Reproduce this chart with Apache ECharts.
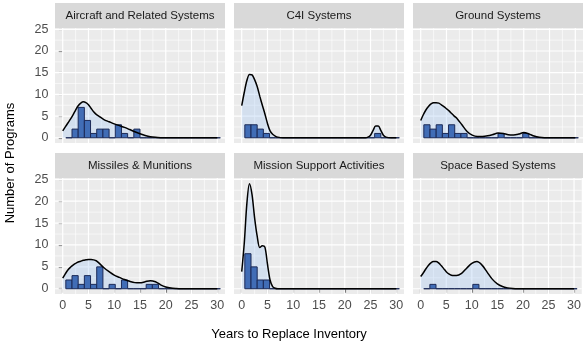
<!DOCTYPE html>
<html><head><meta charset="utf-8">
<script src="https://cdn.jsdelivr.net/npm/echarts@6/dist/echarts.min.js"></script>
<style>html,body{margin:0;padding:0;background:#fff}#c{width:584px;height:347px}</style>
</head><body><div id="c"></div>
<script>
// ---------- DATA ----------
const panelTitles = ['Aircraft and Related Systems', 'C4I Systems', 'Ground Systems',
                     'Missiles & Munitions', 'Mission Support Activities', 'Space Based Systems'];
const xTitle = 'Years to Replace Inventory';
const yTitle = 'Number of Programs';
const xTicks = [0, 5, 10, 15, 20, 25, 30];
const yTicks = [0, 5, 10, 15, 20, 25];
const xMinor = [2.5, 7.5, 12.5, 17.5, 22.5, 27.5];
const yMinor = [2.5, 7.5, 12.5, 17.5, 22.5];

// histogram bin edges (years)
const binEdges = [0.6, 1.8, 3.0, 4.2, 5.4, 6.6, 7.8, 9.0, 10.2, 11.4, 12.6, 13.8, 15.0, 16.2,
                  17.4, 18.6, 19.8, 21.0, 22.2, 23.4, 24.6, 25.8, 27.0, 28.2, 29.4, 30.6];
// counts per bin
const countsAircraft = [0,2,7,4,1,2,2,0,3,1,0,2,0,0,0,0,0,0,0,0,0,0,0,0,0];
const countsC4I      = [3,3,2,1,0,0,0,0,0,0,0,0,0,0,0,0,0,0,0,0,0,1,0,0,0];
const countsGround   = [3,2,3,1,3,1,1,0,0,0,0,0,1,0,0,0,1,0,0,0,0,0,0,0,0];
const countsMissiles = [2,3,1,3,1,5,0,1,0,2,0,0,0,1,1,0,0,0,0,0,0,0,0,0,0];
const countsMission  = [8,5,2,2,0,0,0,0,0,0,0,0,0,0,0,0,0,0,0,0,0,0,0,0,0];
const countsSpace    = [0,1,0,0,0,0,0,0,1,0,0,0,0,0,0,0,0,0,0,0,0,0,0,0,0];

// density curves (count scale), sampled at densityX
const densityX = [0,0.5,1,1.5,2,2.5,3,3.5,4,4.5,5,5.5,6,6.5,7,8,9,10,11,12,13,14,15,16,17,18,19,20,21,22,23,24,24.5,25,25.5,26,26.5,27,27.5,28,29,30];
const densAircraft = [1.6,2.5,3.4,4.3,5.3,6.4,7.4,8.0,8.3,8.1,7.6,6.8,6.0,5.4,5.0,4.2,3.7,3.2,2.8,2.4,1.9,1.4,0.95,0.55,0.25,0.1,0.03,0,0,0,0,0,0,0,0,0,0,0,0,0,0,0];
const densC4I      = [7.4,10.5,13.2,14.6,14.5,13.4,11.8,9.6,7.5,5.5,3.3,1.6,0.8,0.4,0.15,0,0,0,0,0,0,0,0,0,0,0,0,0,0,0,0,0,0.15,0.6,1.7,2.7,2.7,1.7,0.6,0.15,0,0];
const densGround   = [4.0,5.3,6.4,7.2,7.8,8.1,8.1,8.0,7.6,7.2,6.7,6.2,5.6,5.0,4.5,3.0,1.45,0.6,0.3,0.3,0.45,0.75,1.1,1.0,0.7,0.65,0.85,1.2,0.9,0.4,0.1,0,0,0,0,0,0,0,0,0,0,0];
const densMissiles = [2.4,3.4,4.3,4.9,5.4,5.8,6.1,6.3,6.5,6.6,6.7,6.7,6.6,6.4,5.9,4.8,3.9,3.1,2.6,2.1,1.7,1.4,1.35,1.6,1.85,1.6,0.9,0.4,0.15,0.05,0,0,0,0,0,0,0,0,0,0,0,0];
const densMission  = [3.9,10.5,19.5,24.0,21.5,16.2,12.0,9.4,9.8,9.5,5.6,2.0,0.5,0.1,0,0,0,0,0,0,0,0,0,0,0,0,0,0,0,0,0,0,0,0,0,0,0,0,0,0,0,0];
const densSpace    = [2.8,3.6,4.5,5.3,5.9,6.2,6.2,5.9,5.3,4.6,3.9,3.4,3.1,3.0,3.0,3.5,4.7,5.8,6.2,5.4,3.8,2.2,1.1,0.5,0.2,0.05,0,0,0,0,0,0,0,0,0,0,0,0,0,0,0,0];

const allCounts = [countsAircraft, countsC4I, countsGround, countsMissiles, countsMission, countsSpace];
const allDens = [densAircraft, densC4I, densGround, densMissiles, densMission, densSpace];

// ---------- LAYOUT / STYLE ----------
const colLeft = [55, 234, 413];
const panelW = 170;
const rowTop = [28, 178];
const panelH = [115, 116];
const stripH = 25;
const FONT = '"Liberation Sans", Arial, sans-serif';

const chart = echarts.init(document.getElementById('c'), null, {renderer: 'canvas', width: 584, height: 347});

const grids = [], xAxes = [], yAxes = [], series = [], graphics = [];

// gridline items: [x, y, type] type 0 major vertical, 1 minor vertical, 2 major horiz, 3 minor horiz
const gridItems = [];
xTicks.forEach(v => gridItems.push([v, 0, 0]));
xMinor.forEach(v => gridItems.push([v, 0, 1]));
yTicks.forEach(v => gridItems.push([0, v, 2]));
yMinor.forEach(v => gridItems.push([0, v, 3]));

for (let i = 0; i < 6; i++) {
  const row = Math.floor(i / 3), col = i % 3;
  grids.push({left: colLeft[col], top: rowTop[row], width: panelW, height: panelH[row],
              show: true, backgroundColor: '#EBEBEB', borderWidth: 0});
  xAxes.push({
    type: 'value', gridIndex: i, min: -1.5, max: 31.5,
    splitLine: {show: false}, axisLine: {show: false},
    axisTick: {show: row === 1, customValues: xTicks, length: 4, lineStyle: {color: '#333333', width: 1.1}},
    axisLabel: {show: row === 1, customValues: xTicks, color: '#4D4D4D', fontSize: 12.5, margin: 5, fontFamily: FONT}
  });
  yAxes.push({
    type: 'value', gridIndex: i, min: -1.2, max: 25.3,
    splitLine: {show: false}, axisLine: {show: false},
    axisTick: {show: col === 0, customValues: yTicks, length: 4, lineStyle: {color: '#333333', width: 1.1}},
    axisLabel: {show: col === 0, customValues: yTicks, color: '#4D4D4D', fontSize: 12.5, margin: 6.5, fontFamily: FONT}
  });

  // grid lines
  series.push({
    type: 'custom', xAxisIndex: i, yAxisIndex: i, z: 1, silent: true,
    data: gridItems,
    renderItem: function (params, api) {
      const cs = params.coordSys;
      const t = api.value(2);
      let shape;
      if (t < 2) {
        const p = api.coord([api.value(0), 0]);
        shape = {x1: p[0], y1: cs.y, x2: p[0], y2: cs.y + cs.height};
      } else {
        const p = api.coord([0, api.value(1)]);
        shape = {x1: cs.x, y1: p[1], x2: cs.x + cs.width, y2: p[1]};
      }
      const major = (t === 0 || t === 2);
      return {type: 'line', shape: shape, style: {stroke: '#FFFFFF', lineWidth: major ? 1.2 : 0.6}};
    }
  });

  const densData = densityX.map((x, j) => [x, allDens[i][j]]);
  // density area
  series.push({
    type: 'line', xAxisIndex: i, yAxisIndex: i, z: 2, silent: true,
    data: densData, smooth: 0.3, symbol: 'none',
    lineStyle: {width: 0},
    areaStyle: {color: 'rgba(160,198,245,0.45)'}
  });
  // histogram bars
  const barData = allCounts[i].map((c, k) => [binEdges[k], binEdges[k + 1], c]);
  series.push({
    type: 'custom', xAxisIndex: i, yAxisIndex: i, z: 3, silent: true,
    data: barData, encode: {x: [0, 1], y: 2},
    renderItem: function (params, api) {
      const a = api.coord([api.value(0), api.value(2)]);
      const b = api.coord([api.value(1), 0]);
      return {type: 'rect', shape: {x: a[0], y: a[1], width: b[0] - a[0], height: b[1] - a[1]},
              style: {fill: '#416DB6', stroke: '#1C2A57', lineWidth: 1}};
    }
  });
  // density line
  series.push({
    type: 'line', xAxisIndex: i, yAxisIndex: i, z: 4, silent: true,
    data: densData, smooth: 0.3, symbol: 'none',
    lineStyle: {color: '#000000', width: 1.5}
  });

  // strip
  const sy = rowTop[row] - stripH;
  graphics.push({type: 'rect', shape: {x: colLeft[col], y: sy, width: panelW, height: stripH},
                 style: {fill: '#D9D9D9'}, silent: true});
  graphics.push({type: 'text', x: colLeft[col] + panelW / 2, y: sy + stripH / 2,
                 style: {text: panelTitles[i], textAlign: 'center', textVerticalAlign: 'middle',
                         font: '11.5px ' + FONT, fill: '#1A1A1A'}, silent: true});
}

graphics.push({type: 'text', x: 289, y: 334,
               style: {text: xTitle, textAlign: 'center', textVerticalAlign: 'middle', font: '13px ' + FONT, fill: '#000000'}});
graphics.push({type: 'text', x: 10, y: 163, rotation: Math.PI / 2,
               style: {text: yTitle, textAlign: 'center', textVerticalAlign: 'middle', font: '13px ' + FONT, fill: '#000000'}});

chart.setOption({
  animation: false,
  backgroundColor: '#FFFFFF',
  grid: grids, xAxis: xAxes, yAxis: yAxes, series: series, graphic: graphics
});
</script></body></html>
